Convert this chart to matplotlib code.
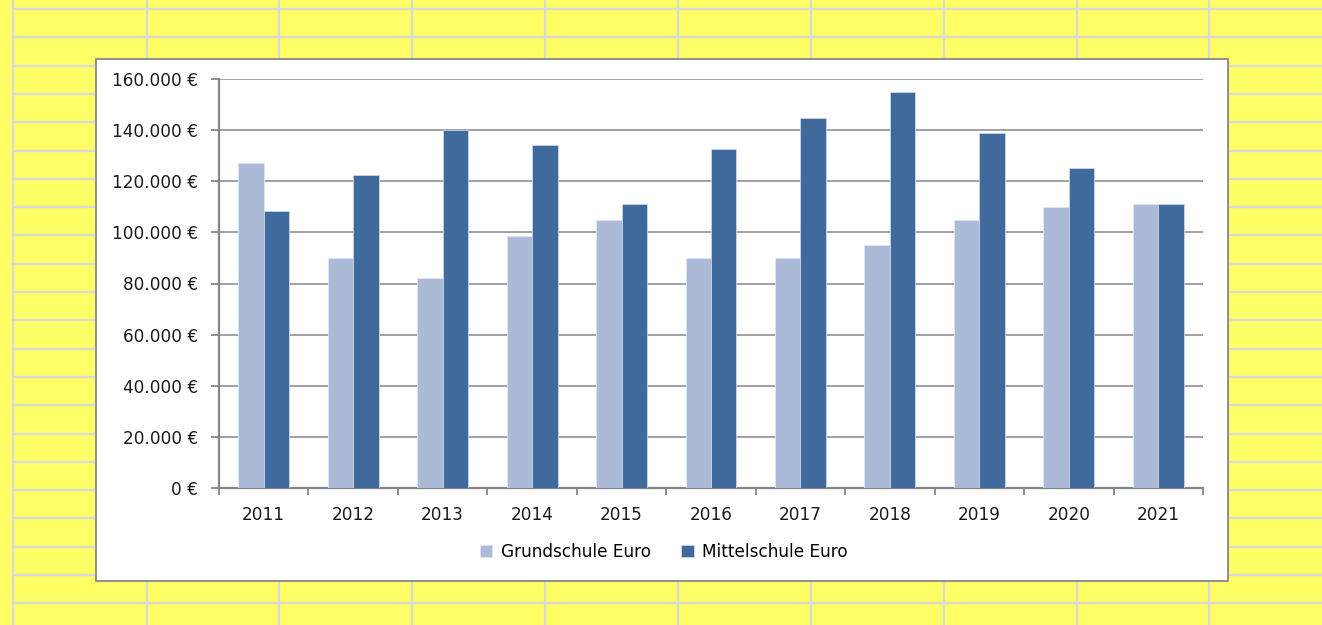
import matplotlib.pyplot as plt
import numpy as np
from matplotlib.patches import Rectangle
from matplotlib.lines import Line2D
from matplotlib.ticker import FuncFormatter, FixedLocator

plt.rcParams['font.family'] = ['DejaVu Sans']

# data
years = ['2011', '2012', '2013', '2014', '2015', '2016',
         '2017', '2018', '2019', '2020', '2021']
grundschule = [127000, 90000, 82000, 98500, 105000, 90000,
               90000, 95000, 105000, 110000, 111000]
mittelschule = [108300, 122600, 140000, 134200, 111000, 132600,
                144800, 154800, 138800, 125000, 111000]
labels = ['Grundschule Euro', 'Mittelschule Euro']

LIGHT = '#abbad7'
DARK = '#3f6a9b'
GRID = '#9a9a9a'
AXIS = '#868686'
FS = 12.2

W, H = 1322, 625
fig = plt.figure(figsize=(W / 100, H / 100), dpi=100)
fig.patch.set_facecolor('#ffff66')

# spreadsheet cell grid behind the chart
for x in [13.5, 147, 279, 412, 545, 678, 811, 944, 1077, 1209]:
	fig.add_artist(Line2D([x / W, x / W], [0, 1], color='#d9d9d9', lw=1.6, zorder=0))
for k in range(23):
	y = 9 + k * 28.3
	fig.add_artist(Line2D([13.5 / W, 1], [1 - y / H, 1 - y / H], color='#d9d9d9', lw=1.6, zorder=0))

# chart box
fig.add_artist(Rectangle((96 / W, 1 - 581 / H), (1228 - 96) / W, (581 - 59) / H,
	facecolor='white', edgecolor=AXIS, lw=1.3, zorder=1))

ax = fig.add_axes([219 / W, 1 - 488 / H, (1203 - 219) / W, (488 - 79) / H], zorder=2)
ax.set_facecolor('white')

x = np.arange(len(years))
bw = 0.285
b1 = ax.bar(x - bw / 2, grundschule, bw, color=LIGHT, edgecolor='#dfe6f2', lw=0.6, zorder=3)
b2 = ax.bar(x + bw / 2, mittelschule, bw, color=DARK, edgecolor='#c9d6e8', lw=0.6, zorder=3)

ax.set_xlim(-0.5, len(years) - 0.5)
ax.set_ylim(0, 160000)
ax.set_yticks(np.arange(0, 160001, 20000))
ax.yaxis.set_major_formatter(FuncFormatter(lambda v, p: f"{int(v):,}".replace(',', '.') + ' €'))
ax.grid(axis='y', color=GRID, lw=1.3, zorder=1)
ax.set_axisbelow(True)

ax.set_xticks(x)
ax.set_xticklabels(years)
ax.xaxis.set_minor_locator(FixedLocator(np.arange(-0.5, len(years), 1.0)))
ax.tick_params(axis='x', which='major', length=0, pad=13, labelsize=FS, labelcolor='#1a1a1a')
ax.tick_params(axis='x', which='minor', length=5, width=1.3, color=AXIS, direction='out')
ax.tick_params(axis='y', length=6, width=1.3, color=AXIS, pad=9, labelsize=FS, labelcolor='#1a1a1a')

for side in ['top', 'right']:
	ax.spines[side].set_visible(False)
for side in ['left', 'bottom']:
	ax.spines[side].set_color(AXIS)
	ax.spines[side].set_linewidth(1.6)

fig.legend([b1, b2], labels, loc='center', bbox_to_anchor=(664 / W, 1 - 552 / H),
	ncol=2, frameon=False, fontsize=FS, handlelength=0.72, handleheight=0.72,
	handletextpad=0.5, columnspacing=1.8)

fig.savefig('out.png', dpi=100, facecolor=fig.get_facecolor())
